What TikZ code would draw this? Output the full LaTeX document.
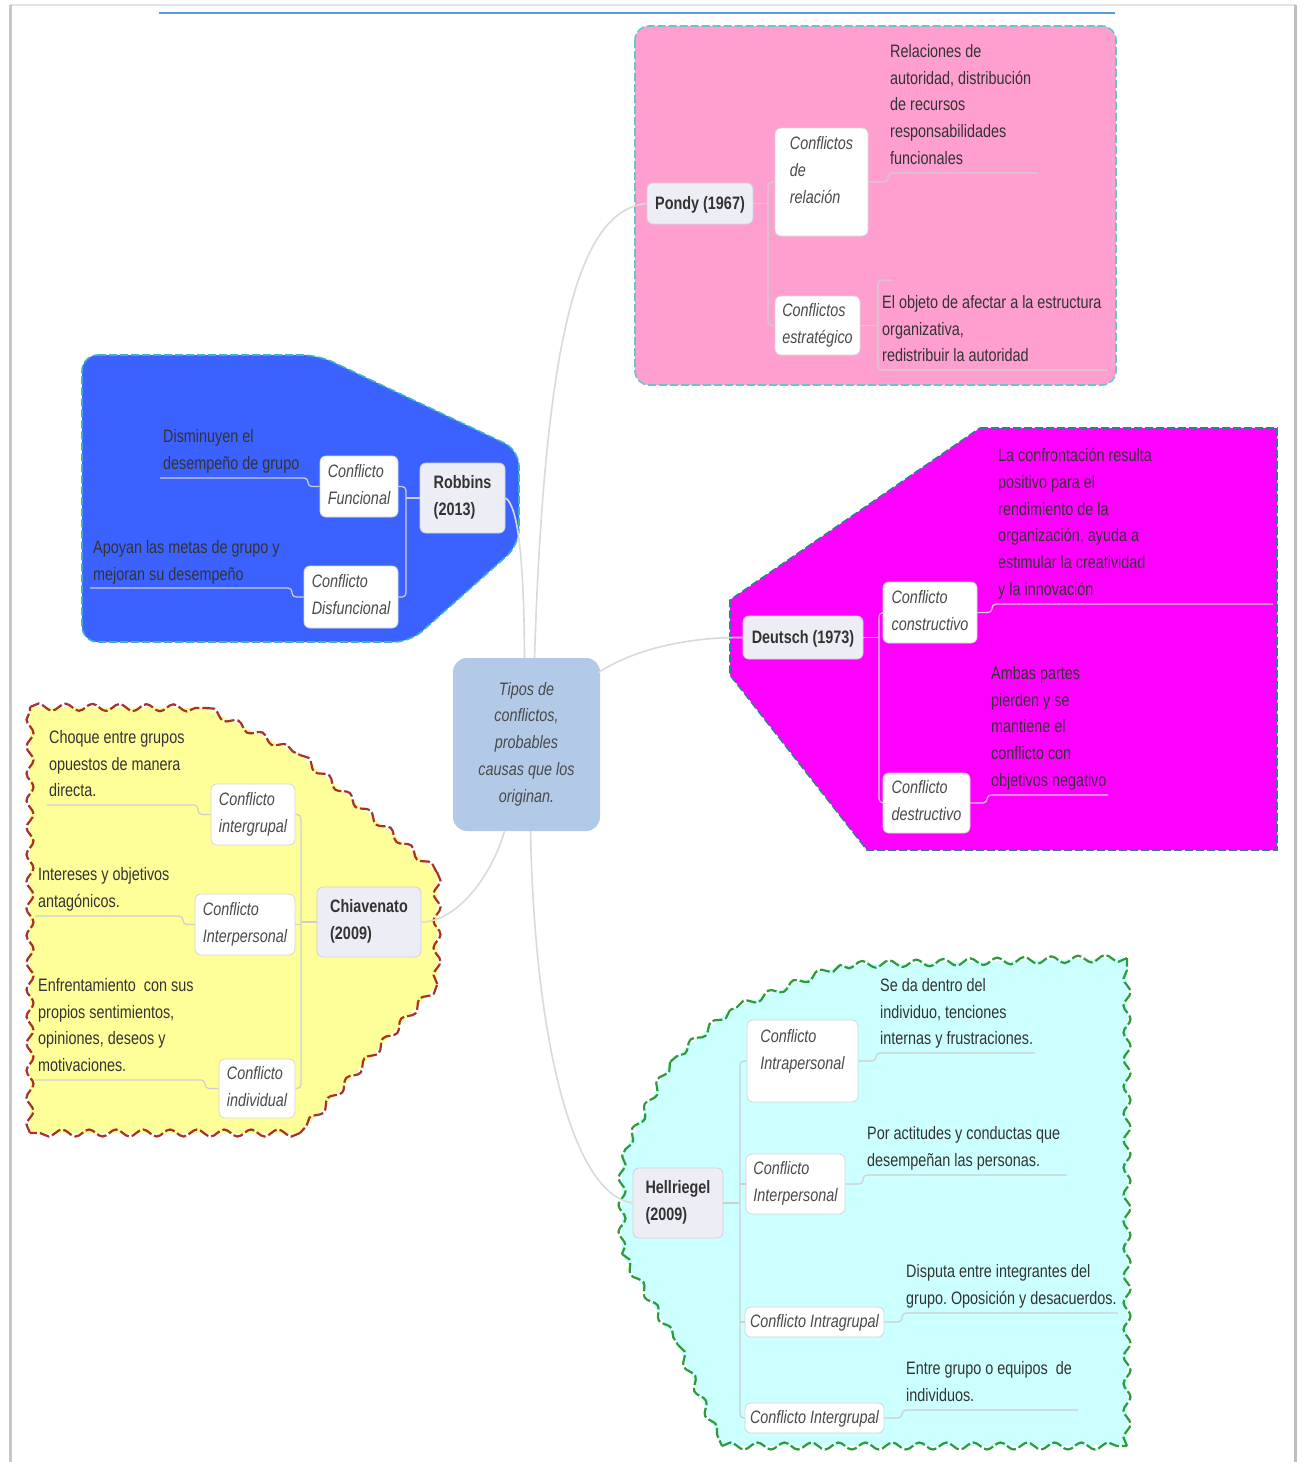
\documentclass[tikz,border=0pt]{standalone}
\usepackage{fontspec}
\setmainfont{Liberation Sans}[FakeStretch=0.8]
\usetikzlibrary{calc,decorations.pathmorphing}
\frenchspacing

\definecolor{ink}{HTML}{333333}
\definecolor{inkit}{HTML}{4A4A4A}
\definecolor{boxline}{HTML}{D6D6D6}
\definecolor{authfill}{HTML}{EDEDF5}
\definecolor{authline}{HTML}{D2D2DC}
\definecolor{treeline}{HTML}{CFCFCF}
\definecolor{linkgray}{HTML}{DADADA}
\definecolor{rulecol}{HTML}{5B9BD5}
\definecolor{centralfill}{HTML}{B3C9E8}
\definecolor{pinkfill}{HTML}{FF9FCF}
\definecolor{pinkline}{HTML}{63C7CC}
\definecolor{bluefill}{HTML}{3B62FF}
\definecolor{blueline}{HTML}{3FB2C6}
\definecolor{magfill}{HTML}{FF00FF}
\definecolor{magline}{HTML}{2B8090}
\definecolor{yelfill}{HTML}{FFFF99}
\definecolor{yelline}{HTML}{A8322A}
\definecolor{cyanfill}{HTML}{CCFFFF}
\definecolor{cyanline}{HTML}{2F9A3A}

\newcommand\lsz{\fontsize{18}{26.8}\selectfont}
\newcommand\lstrut{\vrule height 15.5pt depth 4.5pt width 0pt}

\tikzset{
  txt/.style={text=ink, execute at begin node=\lstrut, execute at end node=\lstrut},
  leaf/.style={txt, font=\lsz, anchor=north west, inner sep=0pt, align=left},
  wh/.style 2 args={minimum width=#1pt, minimum height=#2pt},
  subbox/.style={txt, font=\lsz\itshape, text=inkit, draw=boxline, fill=white,
    line width=0.8pt, rounded corners=6pt, align=left, inner sep=0pt},
  authbox/.style={txt, font=\lsz\bfseries, draw=authline, fill=authfill,
    line width=0.8pt, rounded corners=6pt, align=left, inner sep=0pt},
  tline/.style={draw=treeline, line width=1.2pt, rounded corners=4pt},
  link/.style={draw=linkgray, line width=1.6pt},
  region/.style={line width=1.6pt, dash pattern=on 8pt off 3pt},
  wavyedge/.style={line width=2.2pt, dash pattern=on 10pt off 3pt, decorate,
    decoration={snake, segment length=27pt, amplitude=3.5pt}},
}

\begin{document}
\begin{tikzpicture}[x=1pt,y=-1pt]
\useasboundingbox (0,0) rectangle (1303,1462);
\fill[white] (0,0) rectangle (1303,1462);

% sheet edges and heading rule
\draw[line width=1.5pt, black!10] (10,5) -- (1296,5);
\draw[line width=3pt, black!22] (10.5,5) -- (10.5,1470);
\draw[line width=3pt, black!25] (1295,5) -- (1295,1470);
\draw[line width=2pt, rulecol] (159,12.5) -- (1115,12.5);

% coloured regions
\path[region, fill=pinkfill, draw=pinkline, rounded corners=14pt] (635,26) rectangle (1116,385);
\path[region, fill=bluefill, draw=blueline, rounded corners=16pt]
  (82,355) -- (318,355) -- (519,450) -- (519,545) -- (410,642) -- (82,642) -- cycle;
\path[region, fill=magfill, draw=magline]
  (980,428) -- (1277,428) -- (1277,850) -- (867,850) -- (730,675) -- (730,600) -- cycle;

% yellow region with a wavy dashed outline
\fill[yelfill] (30,707) -- (205,708) -- (300,755) -- (437,872) -- (437,985) -- (300,1133) -- (30,1133) -- cycle;
\draw[wavyedge, draw=yelline] (30,707) -- (205,708);
\draw[wavyedge, draw=yelline] (205,708) -- (300,755);
\draw[wavyedge, draw=yelline] (300,755) -- (437,872);
\draw[wavyedge, draw=yelline] (437,872) -- (437,985);
\draw[wavyedge, draw=yelline] (437,985) -- (300,1133);
\draw[wavyedge, draw=yelline] (300,1133) -- (30,1133);
\draw[wavyedge, draw=yelline] (30,1133) -- (30,707);

% cyan region with a wavy dashed outline
\fill[cyanfill] (1127,958) -- (840,965) -- (730,1010) -- (670,1062) -- (622,1156) -- (622,1254)
  -- (678,1345) -- (722,1446) -- (1127,1446) -- cycle;
\draw[wavyedge, draw=cyanline] (1127,958) -- (840,965);
\draw[wavyedge, draw=cyanline] (840,965) -- (730,1010);
\draw[wavyedge, draw=cyanline] (730,1010) -- (670,1062);
\draw[wavyedge, draw=cyanline] (670,1062) -- (622,1156);
\draw[wavyedge, draw=cyanline] (622,1156) -- (622,1254);
\draw[wavyedge, draw=cyanline] (622,1254) -- (678,1345);
\draw[wavyedge, draw=cyanline] (678,1345) -- (722,1446);
\draw[wavyedge, draw=cyanline] (722,1446) -- (1127,1446);
\draw[wavyedge, draw=cyanline] (1127,1446) -- (1127,958);

% central topic
\node[txt, font=\lsz\itshape, text=inkit, fill=centralfill, rounded corners=14pt,
  align=center, inner sep=0pt, wh={147}{173}] (central) at (526.5,744.5)
  {Tipos de\\conflictos,\\probables\\causas que los\\originan.};

% authors
\node[authbox, wh={106}{41}] (pondy) at (700,203.5) {Pondy (1967)};
\node[authbox, wh={85}{70}] (robbins) at (462.5,498) {Robbins\\(2013)};
\node[authbox, wh={120}{43}] (deutsch) at (803,637.5) {Deutsch (1973)};
\node[authbox, wh={104}{70}] (chiav) at (369,922) {Chiavenato\\(2009)};
\node[authbox, wh={90}{70}] (hell) at (678,1203) {Hellriegel\\(2009)};

% conflict types
\node[subbox, wh={93}{108}] (r1) at (821.5,182) {Conflictos\\de\\relación\\[-7pt]\mbox{}};
\node[subbox, wh={85}{59}] (r2) at (817.5,325.5) {Conflictos\\estratégico};
\node[subbox, wh={78}{61}] (f1) at (359,486.5) {Conflicto\\Funcional};
\node[subbox, wh={94}{62}] (f2) at (351,597) {Conflicto\\Disfuncional};
\node[subbox, wh={94}{61}] (d1) at (930,612.5) {Conflicto\\constructivo};
\node[subbox, wh={87}{60}] (d2) at (926.5,803) {Conflicto\\destructivo};
\node[subbox, wh={84}{61}] (c1) at (253,814.5) {Conflicto\\intergrupal};
\node[subbox, wh={100}{61}] (c2) at (245,924.5) {Conflicto\\Interpersonal};
\node[subbox, wh={76}{59}] (c3) at (257,1088.5) {Conflicto\\individual};
\node[subbox, wh={111}{82}] (h1) at (802.5,1061) {Conflicto\\Intrapersonal\\[-8pt]\mbox{}};
\node[subbox, wh={99}{60}] (h2) at (795.5,1184) {Conflicto\\Interpersonal};
\node[subbox, wh={139}{30}] (h3) at (814.5,1322) {Conflicto Intragrupal};
\node[subbox, wh={139}{30}] (h4) at (814.5,1418) {Conflicto Intergrupal};

% descriptions
\node[leaf] (lr1) at (890,44) {Relaciones de\\autoridad, distribución\\de recursos\\responsabilidades\\funcionales};
\node[leaf] (lr2) at (882,295) {El objeto de afectar a la estructura\\organizativa,\\redistribuir la autoridad};
\node[leaf] (lb1) at (163,429) {Disminuyen el\\desempeño de grupo};
\node[leaf] (lb2) at (93,540) {Apoyan las metas de grupo y\\mejoran su desempeño};
\node[leaf] (ld1) at (998,448) {La confrontación resulta\\positivo para el\\rendimiento de la\\organización, ayuda a\\estimular la creatividad\\y la innovación};
\node[leaf] (ld2) at (991,666) {Ambas partes\\pierden y se\\mantiene el\\conflicto con\\objetivos negativo};
\node[leaf] (lc1) at (49,730) {Choque entre grupos\\opuestos de manera\\directa.};
\node[leaf] (lc2) at (38,867) {Intereses y objetivos\\antagónicos.};
\node[leaf] (lc3) at (38,978) {Enfrentamiento\ \ con sus\\propios sentimientos,\\opiniones, deseos y\\motivaciones.};
\node[leaf] (lh1) at (880,978) {Se da dentro del\\individuo, tenciones\\internas y frustraciones.};
\node[leaf] (lh2) at (867,1126) {Por actitudes y conductas que\\desempeñan las personas.};
\node[leaf] (lh3) at (906,1264) {Disputa entre integrantes del\\grupo. Oposición y desacuerdos.};
\node[leaf] (lh4) at (906,1361) {Entre grupo o equipos\ \ de\\individuos.};

% links from the central topic
\draw[link] ($(central.north)+(8,0)$) .. controls (545,330) and (580,210) .. (pondy.west);
\draw[link] ($(central.north)+(-2,0)$) .. controls (524,560) and (518,505) .. (robbins.east);
\draw[link] ($(central.north east)+(-2,15)$) .. controls (640,645) and (700,637) .. (deutsch.west);
\draw[link] ($(central.south)+(-22,0)$) .. controls (490,880) and (455,922) .. (chiav.east);
\draw[link] ($(central.south)+(4,0)$) .. controls (535,1050) and (575,1195) .. (hell.west);

% branch bars
\coordinate (pbar) at (768,203.5);
\draw[tline] (pondy.east) -- (pbar);
\draw[tline] (r1.west) -| (pbar) |- (r2.west);
\coordinate (rbar) at (406,498);
\draw[tline] (robbins.west) -- (rbar);
\draw[tline] (f1.east) -| (rbar) |- (f2.east);
\coordinate (dbar) at (879,637.5);
\draw[tline] (deutsch.east) -- (dbar);
\draw[tline] (d1.west) -| (dbar) |- (d2.west);
\coordinate (cbar) at (301,922);
\draw[tline] (chiav.west) -- (cbar);
\draw[tline] (c1.east) -| (cbar) |- (c3.east);
\draw[tline] (c2.east) -- (cbar |- c2.east);
\coordinate (hbar) at (740,1203);
\draw[tline] (hell.east) -- (hbar);
\draw[tline] (h1.west) -| (hbar) |- (h4.west);
\draw[tline] (hbar |- h2.west) -- (h2.west);
\draw[tline] (hbar |- h3.west) -- (h3.west);

% underlines under the descriptions
\coordinate (ur1a) at (888,173);  \coordinate (ur1b) at (1038,173);
\draw[tline] (r1.east) -- (ur1a |- r1.east) -- (ur1a) -- (ur1b);
\coordinate (ur2a) at (878,370);  \coordinate (ur2b) at (1108,370);
\coordinate (ur2t) at (878,280);
\draw[tline] (r2.east) -- (ur2a |- r2.east);
\draw[tline] ($(ur2t)+(15,0)$) -- (ur2t) -- (ur2a) -- (ur2b);
\coordinate (ub1a) at (160,478);  \coordinate (ub1b) at (308,478);
\draw[tline] (f1.west) -- (ub1b |- f1.west) -- (ub1b) -- (ub1a);
\coordinate (ub2a) at (90,588);   \coordinate (ub2b) at (292,588);
\draw[tline] (f2.west) -- (ub2b |- f2.west) -- (ub2b) -- (ub2a);
\coordinate (ud1a) at (992,604);  \coordinate (ud1b) at (1273,604);
\draw[tline] (d1.east) -- (ud1a |- d1.east) -- (ud1a) -- (ud1b);
\coordinate (ud2a) at (987,795);  \coordinate (ud2b) at (1108,795);
\draw[tline] (d2.east) -- (ud2a |- d2.east) -- (ud2a) -- (ud2b);
\coordinate (uc1a) at (47,805);   \coordinate (uc1b) at (198,805);
\draw[tline] (c1.west) -- (uc1b |- c1.west) -- (uc1b) -- (uc1a);
\coordinate (uc2a) at (35,916);   \coordinate (uc2b) at (183,916);
\draw[tline] (c2.west) -- (uc2b |- c2.west) -- (uc2b) -- (uc2a);
\coordinate (uc3a) at (35,1080);  \coordinate (uc3b) at (205,1080);
\draw[tline] (c3.west) -- (uc3b |- c3.west) -- (uc3b) -- (uc3a);
\coordinate (uh1a) at (876,1053); \coordinate (uh1b) at (1035,1053);
\draw[tline] (h1.east) -- (uh1a |- h1.east) -- (uh1a) -- (uh1b);
\coordinate (uh2a) at (863,1175); \coordinate (uh2b) at (1067,1175);
\draw[tline] (h2.east) -- (uh2a |- h2.east) -- (uh2a) -- (uh2b);
\coordinate (uh3a) at (902,1313); \coordinate (uh3b) at (1118,1313);
\draw[tline] (h3.east) -- (uh3a |- h3.east) -- (uh3a) -- (uh3b);
\coordinate (uh4a) at (902,1410); \coordinate (uh4b) at (1078,1410);
\draw[tline] (h4.east) -- (uh4a |- h4.east) -- (uh4a) -- (uh4b);
\end{tikzpicture}
\end{document}
